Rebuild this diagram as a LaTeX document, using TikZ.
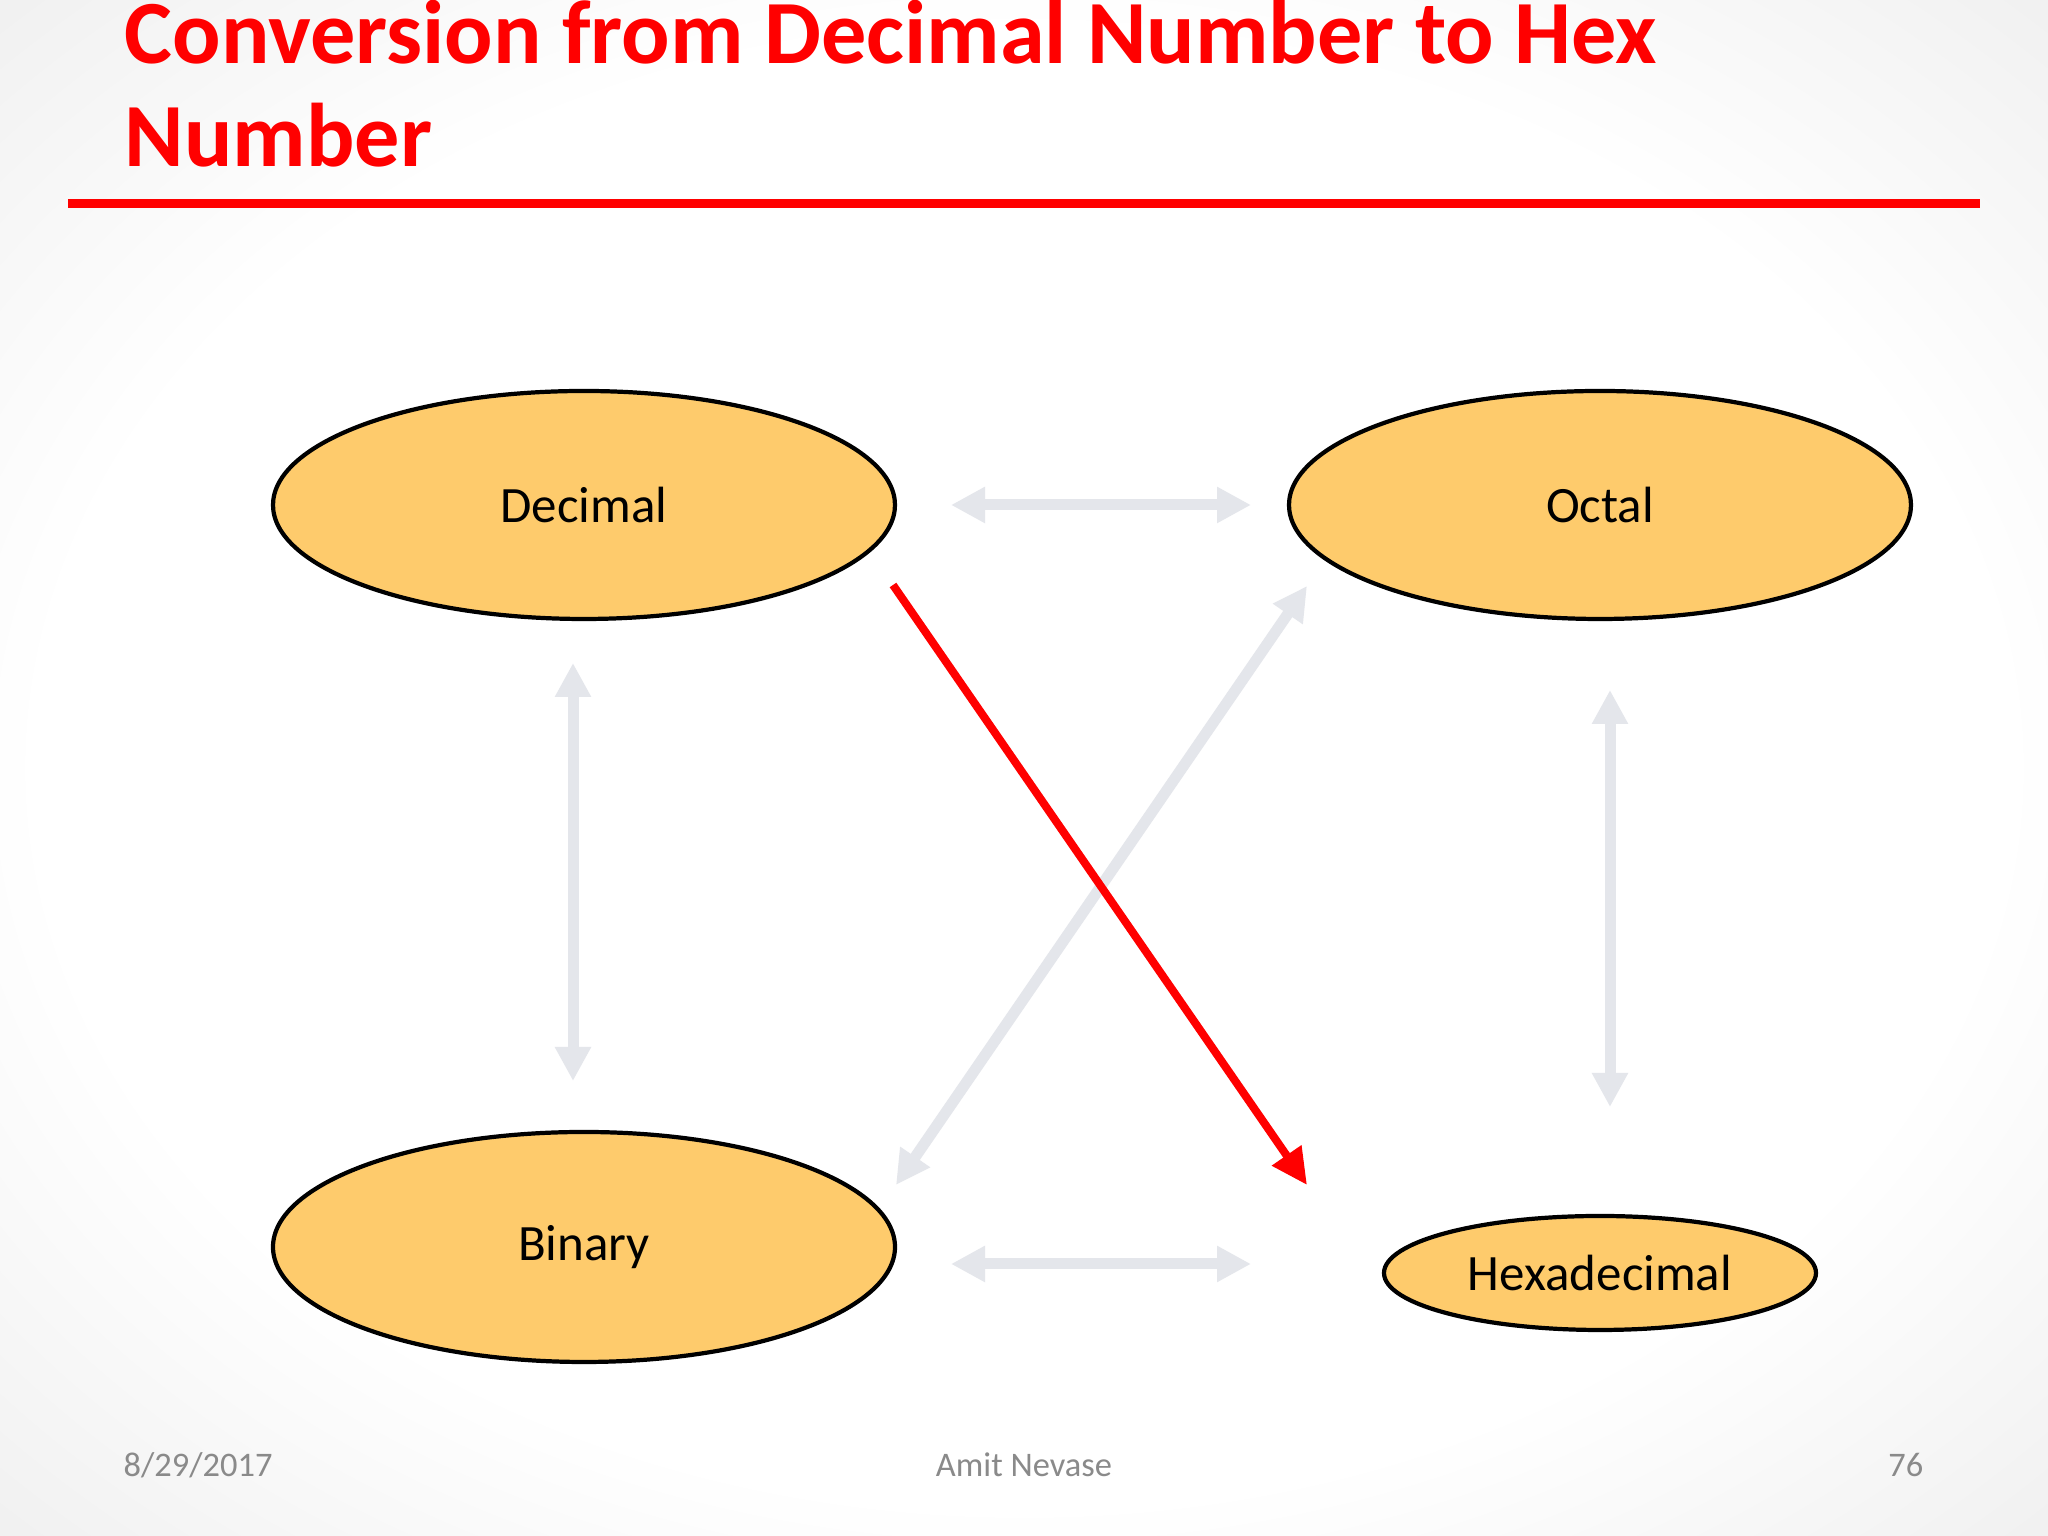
\documentclass[tikz,border=0pt]{standalone}
\usepackage{fontspec}
\setmainfont{Carlito}
\usetikzlibrary{shapes.geometric,arrows.meta}

\pgfdeclareradialshading{slidebg}{\pgfpoint{0bp}{0bp}}{color(0bp)=(white); color(24bp)=(white); color(50bp)=(black!13); color(72bp)=(black!22)}
\definecolor{basefill}{HTML}{FECB6C}
\definecolor{ghost}{HTML}{E4E6EB}
\definecolor{titlered}{HTML}{FF0000}
\definecolor{footgray}{HTML}{8A8A8A}

\begin{document}
\begin{tikzpicture}[
    basenode/.style={
        ellipse,
        draw,
        line width=1.2pt,
        fill=basefill,
        inner sep=0pt,
        font=\fontsize{14.5}{17}\selectfont,
    },
    ghostarrow/.style={
        draw=ghost,
        line width=0.11cm,
        {Triangle[width=0.34cm,length=0.34cm]}-{Triangle[width=0.34cm,length=0.34cm]},
    },
    redarrow/.style={
        draw=titlered,
        line width=0.08cm,
        -{Triangle[width=0.34cm,length=0.36cm]},
    },
    titletext/.style={
        anchor=base west,
        inner sep=0pt,
        text=titlered,
        font=\fontsize{25.7}{31}\selectfont\bfseries,
    },
    foot/.style={
        inner sep=0pt,
        text=footgray,
        font=\fontsize{9.8}{12}\selectfont,
    },
]

    \shade[shading=slidebg] (0,0) rectangle (20.48,15.36);
    \useasboundingbox (0,0) rectangle (20.48,15.36);

    \node[titletext] (title1) at (1.24,14.72) {Conversion from Decimal Number to Hex};
    \node[titletext] (title2) at (1.24,13.69) {Number};
    \draw[titlered, line width=0.09cm] (0.68,13.32) -- (19.80,13.32);

    \node[basenode, minimum width=6.22cm, minimum height=2.28cm] (dec) at (5.84,10.31) {Decimal};
    \node[basenode, minimum width=6.22cm, minimum height=2.28cm] (oct) at (16.00,10.31) {Octal};
    \node[basenode, minimum width=6.22cm, minimum height=2.30cm] (bin) at (5.84,2.89) {Binary};
    \node[basenode, minimum width=4.32cm, minimum height=1.14cm] (hex) at (16.00,2.63) {Hexadecimal};

    \coordinate (dec-oct1) at (9.51,10.31);
    \coordinate (dec-oct2) at (12.51,10.31);
    \coordinate (bin-hex1) at (9.51,2.72);
    \coordinate (bin-hex2) at (12.51,2.72);
    \coordinate (dec-bin1) at (5.73,8.73);
    \coordinate (dec-bin2) at (5.73,4.55);
    \coordinate (oct-hex1) at (16.10,8.46);
    \coordinate (oct-hex2) at (16.10,4.29);
    \coordinate (oct-bin1) at (13.07,9.50);
    \coordinate (oct-bin2) at (8.96,3.51);
    \coordinate (dec-hex1) at (8.93,9.51);
    \coordinate (dec-hex2) at (13.07,3.51);

    \draw[ghostarrow] (dec-oct1) -- (dec-oct2);
    \draw[ghostarrow] (bin-hex1) -- (bin-hex2);
    \draw[ghostarrow] (dec-bin1) -- (dec-bin2);
    \draw[ghostarrow] (oct-hex1) -- (oct-hex2);
    \draw[ghostarrow] (oct-bin1) -- (oct-bin2);
    \draw[redarrow] (dec-hex1) -- (dec-hex2);

    \node[foot, anchor=base west] (date) at (1.23,0.59) {8/29/2017};
    \node[foot, anchor=base] (author) at (10.24,0.59) {Amit Nevase};
    \node[foot, anchor=base east] (page) at (19.24,0.59) {76};

\end{tikzpicture}
\end{document}
